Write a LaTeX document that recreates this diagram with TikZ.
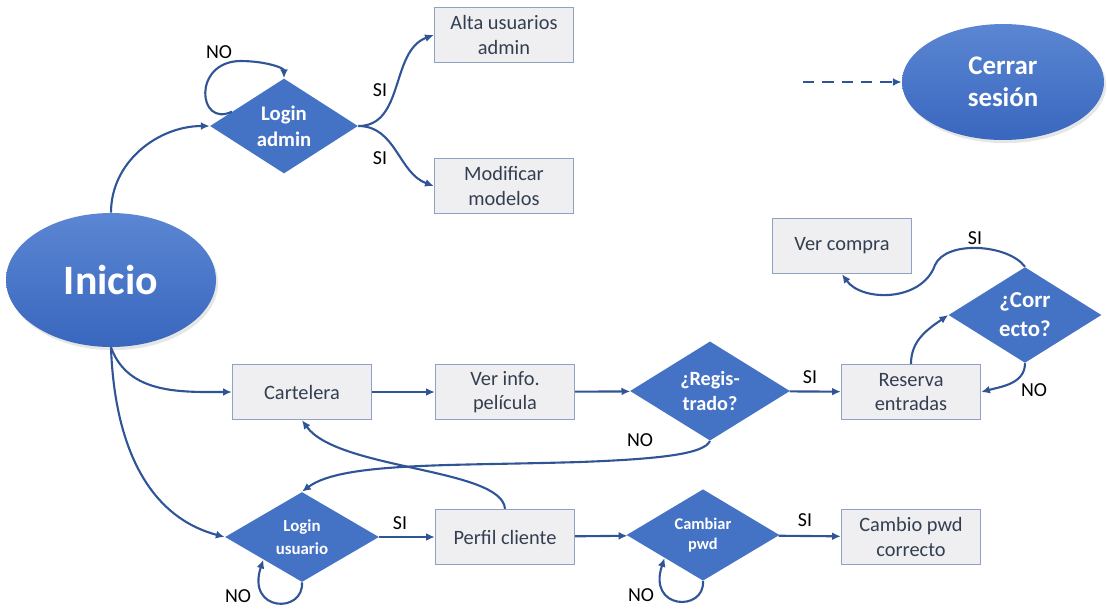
\documentclass[tikz,border=0pt]{standalone}
\usepackage{fontspec}
\setmainfont{Carlito}
\usetikzlibrary{shapes.geometric,arrows.meta,shadows,calc}

\definecolor{flowline}{HTML}{2F5597}
\definecolor{decision}{HTML}{4472C4}
\definecolor{boxfill}{HTML}{EFEFF1}
\definecolor{boxline}{HTML}{8FA2C4}
\definecolor{boxtext}{HTML}{333F50}
\definecolor{termtop}{HTML}{5B86D3}
\definecolor{termbot}{HTML}{3967BE}

\tikzset{
  stepbox/.style={draw=boxline, line width=0.8pt, fill=boxfill, text=boxtext,
    minimum width=2.78cm, minimum height=1.1cm, inner sep=1pt, align=center,
    font=\fontsize{11.6}{14}\selectfont},
  decide/.style={diamond, fill=decision, inner sep=0pt, align=center, text=white},
  terminal/.style={ellipse, top color=termtop, bottom color=termbot, text=white,
    align=center, drop shadow={shadow xshift=1.2pt, shadow yshift=-1.8pt, opacity=0.2}},
  flow/.style={draw=flowline, line width=1.2pt, -{Latex[length=5pt,width=4.5pt]}},
  lbl/.style={font=\fontsize{11.3}{13}\selectfont, inner sep=0pt}
}

\begin{document}
\begin{tikzpicture}[x=0.02cm, y=-0.02cm]
\useasboundingbox (0,0) rectangle (1107,610);

% terminals
\node[terminal, minimum width=4.2cm, minimum height=2.68cm,
  font=\bfseries\fontsize{23.8}{28}\selectfont] (ini) at (111,280) {Inicio};
\node[terminal, minimum width=4.04cm, minimum height=2.32cm,
  font=\bfseries\fontsize{15.3}{18}\selectfont] (cs) at (1003,82) {Cerrar\\sesión};

% administration branch
\node[decide, minimum width=2.96cm, minimum height=1.68cm,
  font=\bfseries\fontsize{11.8}{14.7}\selectfont] (la) at (284,126) {Login\\admin};
\node[stepbox] (alta) at (504,35) {Alta usuarios\\admin};
\node[stepbox] (mod) at (504,186) {Modificar\\modelos};

% catalogue and booking branch
\node[stepbox] (cart) at (302,392) {Cartelera};
\node[stepbox] (info) at (505,392) {Ver info.\\película};
\node[decide, minimum width=3.2cm, minimum height=1.74cm,
  font=\bfseries\fontsize{11.5}{14.5}\selectfont] (reg) at (710,391) {¿Regis-\\trado?};
\node[stepbox] (res) at (911,392) {Reserva\\entradas};
\node[decide, minimum width=3.06cm, minimum height=1.74cm,
  font=\bfseries\fontsize{13}{16.5}\selectfont] (cor) at (1025,315) {¿Corr\\ecto?};
\node[stepbox] (ver) at (842,246) {Ver compra};

% user branch
\node[decide, minimum width=3.08cm, minimum height=1.8cm,
  font=\bfseries\fontsize{9.6}{13}\selectfont] (lu) at (302,537) {Login\\usuario};
\node[stepbox] (pc) at (505,537) {Perfil cliente};
\node[decide, minimum width=3.06cm, minimum height=1.72cm,
  font=\bfseries\fontsize{9.3}{11.8}\selectfont] (cp) at (703,535) {Cambiar\\pwd};
\node[stepbox] (cpc) at (911,537) {Cambio pwd\\correcto};

% logout
\coordinate (dstart) at (803,82);
\draw[flow, dash pattern=on 6.5pt off 4.5pt] (dstart) -- (cs.west);

% connectors from the start
\draw[flow] (ini.north) to[out=90, in=180] (la.west);
\draw[flow] (ini.south) to[out=-70, in=180] (cart.west);
\draw[flow] (ini.south) to[out=-88, in=165] (lu.west);

% admin login
\coordinate (lanw) at ($(la.west)!0.3!(la.north)$);
\draw[flow] (lanw) .. controls (198,128) and (192,62) .. (240,61)
  .. controls (266,61) and (284,68) .. (la.north);
\node[lbl] (no1) at (219,52) {NO};
\draw[flow] (la.east) to[out=0, in=200] (alta.west);
\draw[flow] (la.east) to[out=0, in=160] (mod.west);
\node[lbl] (si1) at (380,90) {SI};
\node[lbl] (si2) at (380,158) {SI};

% catalogue flow
\draw[flow] (cart) -- (info);
\draw[flow] (info) -- (reg);
\draw[flow] (reg) -- (res);
\node[lbl] (si3) at (810,377) {SI};
\draw[flow] (res.north) to[out=90, in=215] (cor.west);
\draw[flow] (cor.south) to[out=-90, in=15] (res.east);
\node[lbl] (no2) at (1034,390) {NO};
\draw[flow] (cor.north) .. controls (1008,244) and (946,240) .. (935,265)
  .. controls (922,302) and (862,302) .. (ver.south);
\node[lbl] (si4) at (975,238) {SI};

% not registered: go to user login
\draw[flow] (reg.south) .. controls (704,454) and (660,459) .. (580,462)
  .. controls (450,466) and (342,462) .. (lu.north);
\node[lbl] (no3) at (640,440) {NO};

% back to the catalogue from the profile
\draw[flow] (pc.north) .. controls (502,468) and (338,470) .. (cart.south);

% user login
\draw[flow] (lu) -- (pc);
\node[lbl] (si5) at (400,523) {SI};
\coordinate (lusw) at ($(lu.west)!0.5!(lu.south)$);
\draw[flow] (lu.south) .. controls (304,614) and (246,612) .. (lusw);
\node[lbl] (no4) at (238,596) {NO};

% password change
\draw[flow] (pc) -- (cp);
\coordinate (cpsw) at ($(cp.west)!0.5!(cp.south)$);
\draw[flow] (cp.south) .. controls (705,612) and (647,610) .. (cpsw);
\node[lbl] (no5) at (641,595) {NO};
\draw[flow] (cp) -- (cpc);
\node[lbl] (si6) at (805,520) {SI};
\end{tikzpicture}
\end{document}
